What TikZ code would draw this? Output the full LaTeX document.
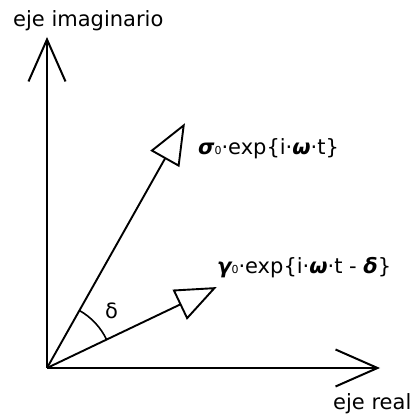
\documentclass[tikz,border=0pt]{standalone}
\usepackage{fontspec}
\setmainfont{DejaVu Sans}
\usetikzlibrary{arrows.meta,calc}
\newcommand{\bigfnt}{\fontsize{21pt}{25pt}\selectfont}
\newcommand{\gsub}[1]{{\fontsize{11pt}{11pt}\selectfont #1}}
\begin{document}
\begin{tikzpicture}[x=1pt,y=1pt,
  every node/.style={font=\bigfnt},
  axis/.style={line width=2.2pt, -{Straight Barb[length=42pt,width=37pt,line width=2pt]}},
  vec/.style={line width=1.9pt, -{Triangle[open,length=41pt,width=33pt,line width=1.9pt]}},
  lbl/.style={inner sep=0pt, anchor=base west}]
\useasboundingbox (0,0) rectangle (413,416);
\fill[white] (0,0) rectangle (413,416);
\coordinate (O) at (47,48);
\coordinate (ytip) at (47,379);
\coordinate (xtip) at (380,48);
\coordinate (stip) at ($(O)+(60.6:281)$);
\coordinate (gtip) at ($(O)+(25.5:188)$);
\draw[axis] (O) -- (ytip);
\draw[axis] (O) -- (xtip);
\draw[vec] (O) -- (stip);
\draw[vec] (O) -- (gtip);
\draw[line width=1.6pt] ($(O)+(25.5:66)$) arc[start angle=25.5, end angle=60.6, radius=66];
\node[lbl] (ylab) at (13,389) {\bigfnt eje imaginario};
\node[lbl] (xlab) at (333,6) {\bigfnt eje real};
\node[lbl] (slab) at (198,261) {\bigfnt{\bfseries\itshape σ}\gsub{0}·exp\{i·{\bfseries\itshape ω}·t\}};
\node[lbl] (glab) at (217,142) {\bigfnt{\bfseries\itshape γ}\gsub{0}·exp\{i·{\bfseries\itshape ω}·t - {\bfseries\itshape δ}\}};
\node[inner sep=0pt] (dlab) at (111.5,105) {\bigfnt δ};
\end{tikzpicture}
\end{document}
